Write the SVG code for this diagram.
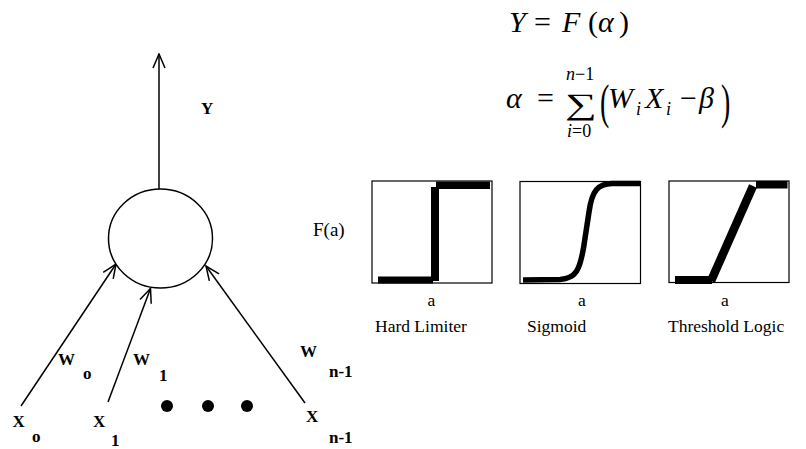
<svg xmlns="http://www.w3.org/2000/svg" width="806" height="449" viewBox="0 0 806 449">
<style>
.lbl{font-family:"Liberation Serif","Times New Roman",serif;font-weight:bold;font-size:17px;fill:#000}
.ser{font-family:"Liberation Serif","Times New Roman",serif;font-size:17.5px;fill:#000}
.m{font-family:"Liberation Serif","Times New Roman",serif;font-size:30px;fill:#000}
.it{font-style:italic}
.sm{font-size:18px}
.big{font-size:28px}
.edge{stroke:#000;stroke-width:1.5;fill:none}
.box{fill:#fff;stroke:#000;stroke-width:1.2}
.curve{stroke:#000;fill:none}
</style>
<defs>
<marker id="arr" viewBox="0 0 16 14" refX="15" refY="7" markerWidth="16" markerHeight="14" markerUnits="userSpaceOnUse" orient="auto">
<path d="M1,1 L15,7 L1,13" fill="none" stroke="#000" stroke-width="1.5"/>
</marker>
</defs>
<rect width="806" height="449" fill="#fff"/>

<g id="connectors">
<line class="edge" x1="159" y1="189" x2="159" y2="54" marker-end="url(#arr)"/>
<line class="edge" x1="21" y1="406" x2="116" y2="264" marker-end="url(#arr)"/>
<line class="edge" x1="108" y1="402" x2="150.5" y2="288.5" marker-end="url(#arr)"/>
<line class="edge" x1="305" y1="403" x2="206" y2="266" marker-end="url(#arr)"/>
</g>

<g id="neuron">
<ellipse cx="160.5" cy="238.5" rx="52" ry="49.5" fill="#fff" stroke="#000" stroke-width="1.5"/>
</g>

<g id="output-label"><text class="lbl" x="201" y="114">Y</text></g>

<g id="w0"><text class="lbl" x="58" y="365">W</text><text class="lbl" x="83" y="379">o</text></g>
<g id="w1"><text class="lbl" x="133" y="365">W</text><text class="lbl" x="159" y="381">1</text></g>
<g id="wn"><text class="lbl" x="300" y="357">W</text><text class="lbl" x="329" y="377">n-1</text></g>

<g id="x0"><text class="lbl" x="12.5" y="427">X</text><text class="lbl" x="32" y="442">o</text></g>
<g id="x1"><text class="lbl" x="93" y="427">X</text><text class="lbl" x="111" y="446">1</text></g>
<g id="xn"><text class="lbl" x="306" y="422">X</text><text class="lbl" x="329" y="443">n-1</text></g>

<g id="dots">
<circle cx="167" cy="406" r="6"/>
<circle cx="208" cy="406" r="6"/>
<circle cx="247" cy="406" r="6"/>
</g>

<g id="equation1">
<text class="m it" x="509" y="32">Y</text>
<text class="m" x="534" y="32">=</text>
<text class="m it" x="562" y="32">F</text>
<text class="m" x="588" y="32">(</text>
<text class="m it" x="598" y="32">α</text>
<text class="m" x="619" y="32">)</text>
</g>

<g id="equation2">
<text class="m it" x="506" y="108">α</text>
<text class="m" x="537" y="108">=</text>
<text class="m" transform="translate(565,114) scale(1.35,0.9)" style="font-size:33px">∑</text>
<text class="m sm" x="566" y="80"><tspan font-style="italic">n</tspan>−1</text>
<text class="m sm" x="567" y="137"><tspan font-style="italic">i</tspan>=0</text>
<text class="m big" transform="translate(600,117.6) scale(1,1.7)">(</text>
<text class="m it" x="608" y="108">W</text>
<text class="m it sm" x="636" y="115">i</text>
<text class="m it" x="645" y="108">X</text>
<text class="m it sm" x="666" y="115">i</text>
<text class="m" x="680" y="108">−</text>
<text class="m it" x="699" y="108">β</text>
<text class="m big" transform="translate(721,117.6) scale(1,1.7)">)</text>
</g>

<g id="fa-label"><text class="ser" x="313" y="236" style="font-size:19px">F(a)</text></g>

<g id="hard-limiter">
<rect class="box" x="372" y="181" width="120" height="102"/>
<rect x="378" y="276.5" width="55" height="7"/>
<rect x="431" y="187" width="8" height="94"/>
<rect x="436" y="181.5" width="54" height="7.5"/>
<text class="ser" x="431.5" y="306" text-anchor="middle">a</text>
<text class="ser" x="375" y="332">Hard Limiter</text>
</g>

<g id="sigmoid">
<rect class="box" x="520" y="181.5" width="120.5" height="102"/>
<path class="curve" stroke-width="5.5" d="M523,280 L560,279.5 C576,278.5 580,270 584,245 L589,212 C592,190 598,184 612,183.5 L640,183.5"/>
<text class="ser" x="582" y="306" text-anchor="middle">a</text>
<text class="ser" x="527" y="332">Sigmoid</text>
</g>

<g id="threshold">
<rect class="box" x="669" y="181" width="120" height="101.5"/>
<rect x="675" y="276" width="37" height="8"/>
<line x1="711" y1="281" x2="753" y2="186" stroke="#000" stroke-width="8.5"/>
<rect x="756" y="181" width="31.5" height="7.5"/>
<text class="ser" x="725" y="306" text-anchor="middle">a</text>
<text class="ser" x="668" y="332">Threshold Logic</text>
</g>
</svg>
